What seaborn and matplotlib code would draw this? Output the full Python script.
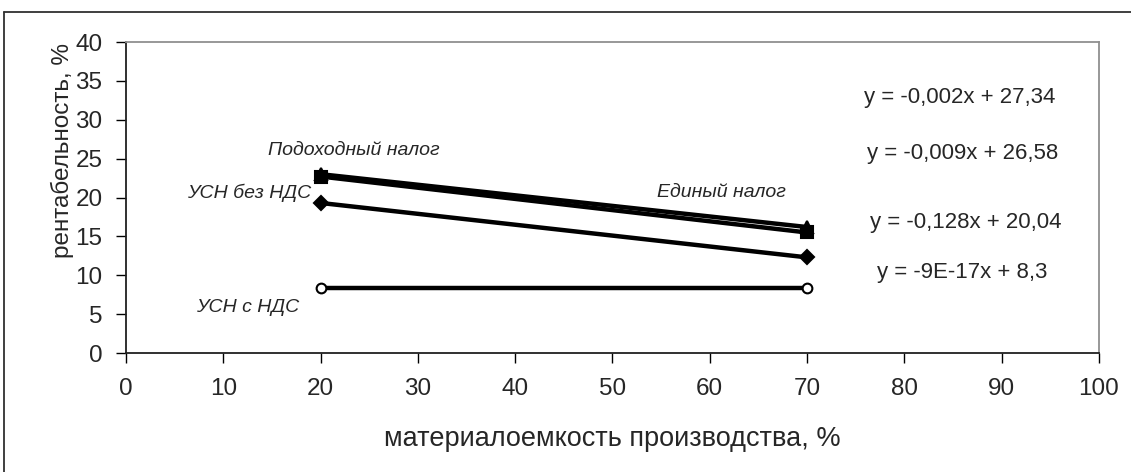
import pandas as pd
import matplotlib.pyplot as plt
import seaborn as sns

x_vals = [20, 70]
podohodny = [22.7, 15.5]
edinyi = [23.0, 16.2]
usn_bez_nds = [19.3, 12.3]
usn_s_nds = [8.3, 8.3]

series_names = ["Подоходный налог", "Единый налог", "УСН без НДС", "УСН с НДС"]
equations = ["y = -0,002x + 27,34", "y = -0,009x + 26,58",
             "y = -0,128x + 20,04", "y = -9E-17x + 8,3"]


def main():
    sns.set_theme(style="white")
    plt.rcParams["font.family"] = ["Liberation Sans", "DejaVu Sans"]

    fig = plt.figure(figsize=(11.31, 4.72), dpi=100)
    ax = fig.add_axes([0.1114, 0.2521, 0.8603, 0.6589])

    data = pd.DataFrame({
        "x": x_vals * 4,
        "y": podohodny + edinyi + usn_bez_nds + usn_s_nds,
        "series": sum([[n] * 2 for n in series_names], []),
    })

    markers = {"Подоходный налог": "s", "Единый налог": "^",
               "УСН без НДС": "D", "УСН с НДС": "o"}
    for name in ["УСН с НДС", "УСН без НДС", "Подоходный налог", "Единый налог"]:
        part = data[data["series"] == name]
        face = "white" if name == "УСН с НДС" else "black"
        size = {"s": 9, "^": 9, "D": 7, "o": 7}[markers[name]]
        sns.lineplot(data=part, x="x", y="y", ax=ax, color="black", lw=3.2,
                     marker=markers[name], markersize=size,
                     markerfacecolor=face, markeredgecolor="black",
                     markeredgewidth=1.5, legend=False)

    ax.set_xlim(0, 100)
    ax.set_ylim(0, 40)
    ax.set_xticks(range(0, 101, 10))
    ax.set_yticks(range(0, 41, 5))
    ax.tick_params(axis="both", labelsize=17.5, length=7, width=1,
                   direction="out", color="black", bottom=True, left=True)
    ax.tick_params(axis="y", pad=10)
    ax.tick_params(axis="x", pad=11)
    ax.set_xlabel("материалоемкость производства, %", fontsize=19.5, labelpad=19)
    ax.set_ylabel("рентабельность, %", fontsize=17.5)
    ax.yaxis.set_label_coords(-0.053, 0.65)

    for side in ["left", "bottom"]:
        ax.spines[side].set_color("#202020")
        ax.spines[side].set_linewidth(1.3)
    for side in ["top", "right"]:
        ax.spines[side].set_color("#909090")
        ax.spines[side].set_linewidth(1.3)

    # series labels
    lbl = dict(fontsize=14, style="italic", ha="center", va="center")
    ax.text(23.4, 26.1, series_names[0], **lbl)
    ax.text(61.2, 20.7, series_names[1], **lbl)
    ax.text(12.7, 20.6, series_names[2], **lbl)
    ax.text(12.5, 5.8, series_names[3], **lbl)

    # trendline equations
    eq = dict(fontsize=16, ha="center", va="center")
    ax.text(85.7, 32.9, equations[0], **eq)
    ax.text(86.0, 25.7, equations[1], **eq)
    ax.text(86.3, 16.8, equations[2], **eq)
    ax.text(85.9, 10.3, equations[3], **eq)

    # outer chart frame
    fig.add_artist(plt.Line2D([4 / 1131, 4 / 1131], [0, 1 - 12 / 472],
                              color="#303030", lw=1.3))
    fig.add_artist(plt.Line2D([4 / 1131, 1], [1 - 12 / 472, 1 - 12 / 472],
                              color="#303030", lw=1.3))

    fig.savefig("out.png", dpi=100)


if __name__ == "__main__":
    main()
